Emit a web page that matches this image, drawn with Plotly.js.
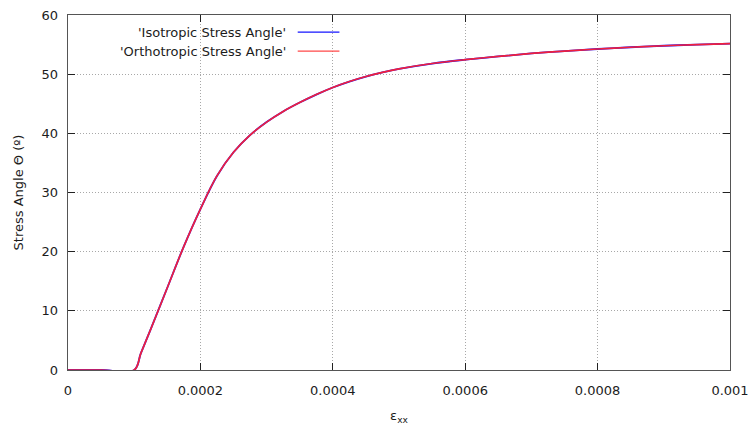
<!DOCTYPE html>
<html>
<head>
<meta charset="utf-8">
<script src="https://cdn.plot.ly/plotly-3.0.1.min.js"></script>
<style>
  html, body { margin: 0; padding: 0; background: #ffffff; }
  #chart { width: 751px; height: 432px; }
</style>
</head>
<body>
<div id="chart"></div>
<script>
// Strain along x (epsilon_xx)
const strain = [0, 0.00005, 0.0001, 0.00011, 0.000125, 0.00015, 0.000175, 0.0002, 0.000225,
  0.00025, 0.000275, 0.0003, 0.000325, 0.00035, 0.000375, 0.0004, 0.000425,
  0.00045, 0.000475, 0.0005, 0.00055, 0.0006, 0.00065, 0.0007, 0.00075,
  0.0008, 0.00085, 0.0009, 0.00095, 0.001];

// Principal stress angle (degrees) for each material model
const isotropicAngle = [0, 0, 0, 2.8, 6.9, 13.9, 20.9, 27.2, 32.8, 36.8, 39.7, 41.9,
  43.7, 45.2, 46.55, 47.75, 48.75, 49.6, 50.3, 50.9, 51.8, 52.45, 53.0, 53.5, 53.9,
  54.25, 54.55, 54.8, 55.0, 55.15];
const orthotropicAngle = [0, 0, 0, 2.8, 6.9, 13.9, 20.9, 27.2, 32.8, 36.8, 39.7, 41.9,
  43.7, 45.2, 46.55, 47.75, 48.75, 49.6, 50.3, 50.9, 51.8, 52.45, 53.0, 53.5, 53.9,
  54.25, 54.55, 54.8, 55.0, 55.15];

const seriesNames = ["'Isotropic Stress Angle'", "'Orthotropic Stress Angle'"];
const seriesColors = ["#1414ff", "#f0203c"];
const keyColors = ["#1414ff", "#ff4848"];

const xTicks = [0, 0.0002, 0.0004, 0.0006, 0.0008, 0.001];
const xTickText = ["0", "0.0002", "0.0004", "0.0006", "0.0008", "0.001"];
const yTicks = [0, 10, 20, 30, 40, 50, 60];

const font = "DejaVu Sans, Verdana, sans-serif";
const textColor = "#1c1c1c";

const traces = [
  { x: strain, y: isotropicAngle, name: seriesNames[0], type: "scatter", mode: "lines",
    line: { color: seriesColors[0], width: 1.8, shape: "spline", smoothing: 1 } },
  { x: strain, y: orthotropicAngle, name: seriesNames[1], type: "scatter", mode: "lines",
    line: { color: seriesColors[1], width: 1.7, shape: "spline", smoothing: 1 } }
];

// Key drawn with text on the left and the line sample on the right
const keyTextX = 0.333, keySampleX0 = 0.347, keySampleX1 = 0.410;
const keyRows = [0.952, 0.898];

const annotations = seriesNames.map((n, i) => ({
  xref: "paper", yref: "paper", x: keyTextX, y: keyRows[i],
  xanchor: "right", yanchor: "middle", text: n, showarrow: false,
  font: { family: font, size: 13, color: textColor }
}));
const shapes = seriesNames.map((n, i) => ({
  type: "line", xref: "paper", yref: "paper",
  x0: keySampleX0, x1: keySampleX1, y0: keyRows[i], y1: keyRows[i],
  line: { color: keyColors[i], width: 1.2 }
}));

const axisCommon = {
  showline: true, mirror: "ticks", linecolor: "#555555", linewidth: 1.4,
  ticks: "inside", ticklen: 7, tickcolor: "#222", tickwidth: 1,
  showgrid: true, gridcolor: "#a8a8a8", gridwidth: 1, griddash: "1px,2px",
  zeroline: false, tickfont: { family: font, size: 13, color: textColor }
};

const layout = {
  width: 751, height: 432,
  margin: { l: 68, r: 21, t: 15, b: 62 },
  paper_bgcolor: "#ffffff", plot_bgcolor: "#ffffff",
  showlegend: false,
  xaxis: Object.assign({}, axisCommon, {
    range: [0, 0.001], tickmode: "array", tickvals: xTicks, ticktext: xTickText,
    ticklabelstandoff: 8,
    title: { text: "ε<sub>xx</sub>", standoff: 14, font: { family: font, size: 13, color: textColor } }
  }),
  yaxis: Object.assign({}, axisCommon, {
    range: [0, 60], tickmode: "array", tickvals: yTicks,
    ticklabelstandoff: 6,
    title: { text: "Stress Angle Θ (º)", standoff: 15, font: { family: font, size: 13, color: textColor } }
  }),
  annotations: annotations,
  shapes: shapes
};

Plotly.newPlot("chart", traces, layout, { staticPlot: true, displayModeBar: false });
</script>
</body>
</html>
